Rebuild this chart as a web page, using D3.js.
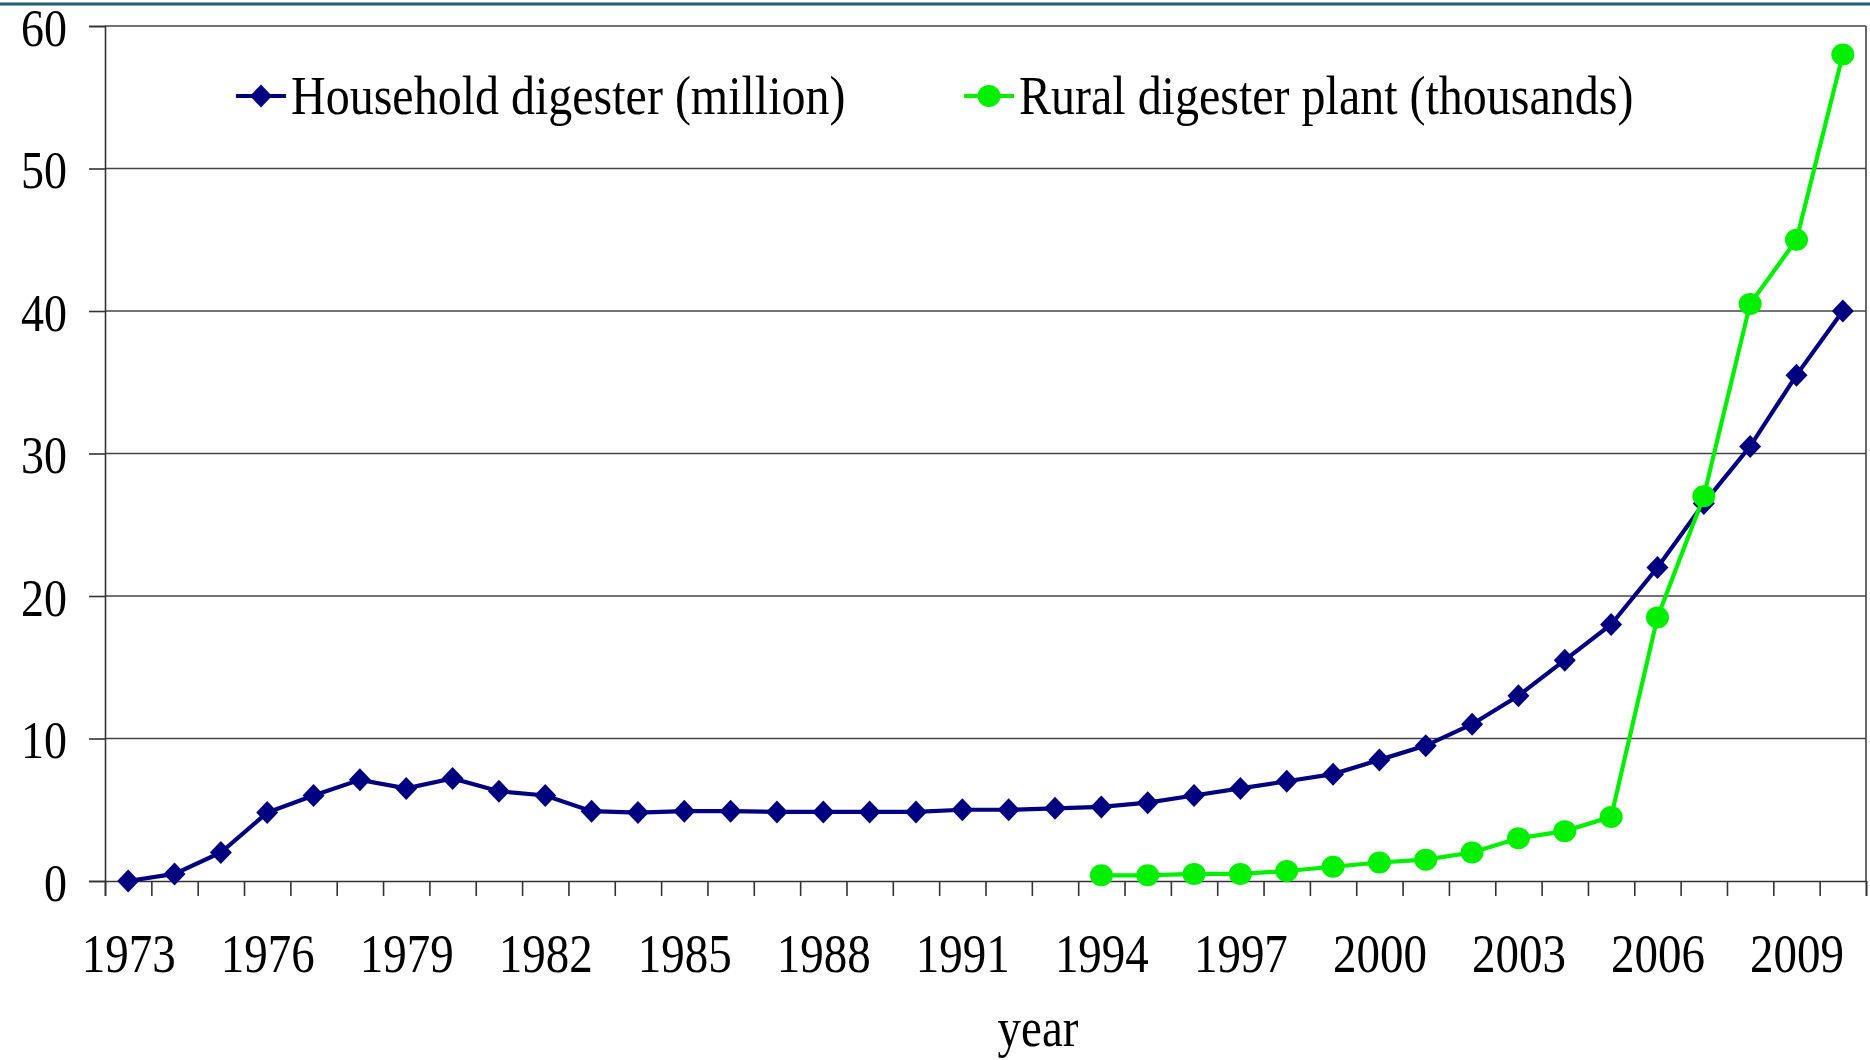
<!DOCTYPE html>
<html lang="en">
<head>
<meta charset="UTF-8">
<title>Digester chart</title>
<style>
  body { margin: 0; background: #fff; }
  svg text { font-family: "Liberation Serif", "Times New Roman", serif; fill: #000; }
</style>
</head>
<body>
<svg width="1870" height="1060" id="svg"></svg>
<script src="https://d3js.org/d3.v7.min.js"></script>
<script>
  const years = d3.range(1973, 2011)
  const household = [0, 0.5, 2.0, 4.8, 6.0, 7.1, 6.5, 7.2, 6.3, 6.0,
    4.9, 4.8, 4.9, 4.9, 4.85, 4.85, 4.85, 4.85, 5.0, 5.0,
    5.1, 5.2, 5.5, 6.0, 6.5, 7.0, 7.5, 8.5, 9.5, 11.0,
    13.0, 15.5, 18.0, 22.0, 26.5, 30.5, 35.5, 40.0]
  const ruralYears = d3.range(1994, 2011)
  const rural = [0.4, 0.4, 0.5, 0.5, 0.7, 1.0, 1.3, 1.5, 2.0, 3.0,
    3.5, 4.5, 18.5, 27.0, 40.5, 45.0, 58.0]
  const yTicks = [0, 10, 20, 30, 40, 50, 60]
  const xLabels = [1973, 1976, 1979, 1982, 1985, 1988, 1991, 1994, 1997, 2000, 2003, 2006, 2009]
  const seriesNames = ["Household digester (million)", "Rural digester plant (thousands)"]

  const sy = 1.15 // text looks stretched vertically in the original
  const svg = d3.select("svg#svg")
  const plot = { left: 105, right: 1866, top: 26, bottom: 881 }

  const x = d3.scaleLinear().domain([1972.5, 2010.5]).range([plot.left, plot.right])
  const y = d3.scaleLinear().domain([0, 60]).range([plot.bottom, plot.top])

  // top rule
  svg.append("line").attr("x1", 0).attr("x2", 1870).attr("y1", 4).attr("y2", 4)
    .attr("stroke", "#1d5c7d").attr("stroke-width", 3)

  // gridlines
  svg.append("g").selectAll("line").data(yTicks.filter(d => d > 0)).join("line")
    .attr("x1", plot.left).attr("x2", plot.right)
    .attr("y1", d => y(d)).attr("y2", d => y(d))
    .attr("stroke", "#444").attr("stroke-width", 1.6)

  // right border
  svg.append("line").attr("x1", plot.right).attr("x2", plot.right)
    .attr("y1", plot.top).attr("y2", plot.bottom)
    .attr("stroke", "#444").attr("stroke-width", 1.6)

  // y axis
  const yAxis = d3.axisLeft(y).tickValues(yTicks).tickSize(16).tickPadding(22).tickFormat(d3.format("d"))
  const gy = svg.append("g").attr("transform", `translate(${plot.left},0)`).call(yAxis)
  gy.select(".domain").attr("stroke", "#333").attr("stroke-width", 1.6)
  gy.selectAll(".tick line").attr("stroke", "#333").attr("stroke-width", 1.6)
  gy.selectAll(".tick text").attr("font-size", 46).attr("font-family", null)
    .attr("dy", "0.36em").attr("transform", `scale(1,${sy})`)

  // x axis: tick marks between categories
  const xTickAxis = d3.axisBottom(x).tickValues(d3.range(1972.5, 2011, 1)).tickSize(15).tickFormat("")
  const gx = svg.append("g").attr("transform", `translate(0,${plot.bottom})`).call(xTickAxis)
  gx.select(".domain").attr("stroke", "#333").attr("stroke-width", 1.6)
  gx.selectAll(".tick line").attr("stroke", "#333").attr("stroke-width", 1.6)

  const xLabelAxis = d3.axisBottom(x).tickValues(xLabels).tickSize(0).tickFormat(d3.format("d"))
  const gxl = svg.append("g").attr("transform", `translate(0,${plot.bottom})`).call(xLabelAxis)
  gxl.select(".domain").remove()
  gxl.selectAll(".tick text").attr("font-size", 47).attr("font-family", null)
    .attr("y", 91 / sy).attr("dy", 0).attr("transform", `scale(1,${sy})`)

  // axis title
  svg.append("text").attr("text-anchor", "middle").attr("font-size", 47)
    .attr("transform", `translate(1038,1046) scale(1,${sy})`).text("year")

  const line = d3.line().x(d => x(d[0])).y(d => y(d[1]))
  const diamond = (cx, cy) => `M${cx},${cy - 11.5}L${cx + 11},${cy}L${cx},${cy + 11.5}L${cx - 11},${cy}Z`
  const navy = "#000080", green = "#00f000"

  const hData = years.map((yr, i) => [yr, household[i]])
  const rData = ruralYears.map((yr, i) => [yr, rural[i]])

  svg.append("path").datum(hData).attr("d", line).attr("fill", "none")
    .attr("stroke", navy).attr("stroke-width", 4.2)
  svg.append("g").selectAll("path").data(hData).join("path")
    .attr("d", d => diamond(x(d[0]), y(d[1]))).attr("fill", navy)

  svg.append("path").datum(rData).attr("d", line).attr("fill", "none")
    .attr("stroke", green).attr("stroke-width", 4.2)
  svg.append("g").selectAll("ellipse").data(rData).join("ellipse")
    .attr("cx", d => x(d[0])).attr("cy", d => y(d[1])).attr("rx", 11.5).attr("ry", 11)
    .attr("fill", green)

  // legend
  const legend = [
    { name: seriesNames[0], x0: 236, color: navy, marker: "diamond" },
    { name: seriesNames[1], x0: 964, color: green, marker: "circle" }
  ]
  const ly = 96
  legend.forEach(l => {
    const g = svg.append("g")
    g.append("line").attr("x1", l.x0).attr("x2", l.x0 + 50).attr("y1", ly).attr("y2", ly)
      .attr("stroke", l.color).attr("stroke-width", 4.2)
    if (l.marker === "diamond") {
      g.append("path").attr("d", diamond(l.x0 + 25, ly)).attr("fill", l.color)
    } else {
      g.append("ellipse").attr("cx", l.x0 + 25).attr("cy", ly).attr("rx", 11.5).attr("ry", 11).attr("fill", l.color)
    }
    g.append("text").attr("font-size", 48)
      .attr("transform", `translate(${l.x0 + 55},${ly + 18}) scale(1,${sy})`).text(l.name)
  })
</script>
</body>
</html>
